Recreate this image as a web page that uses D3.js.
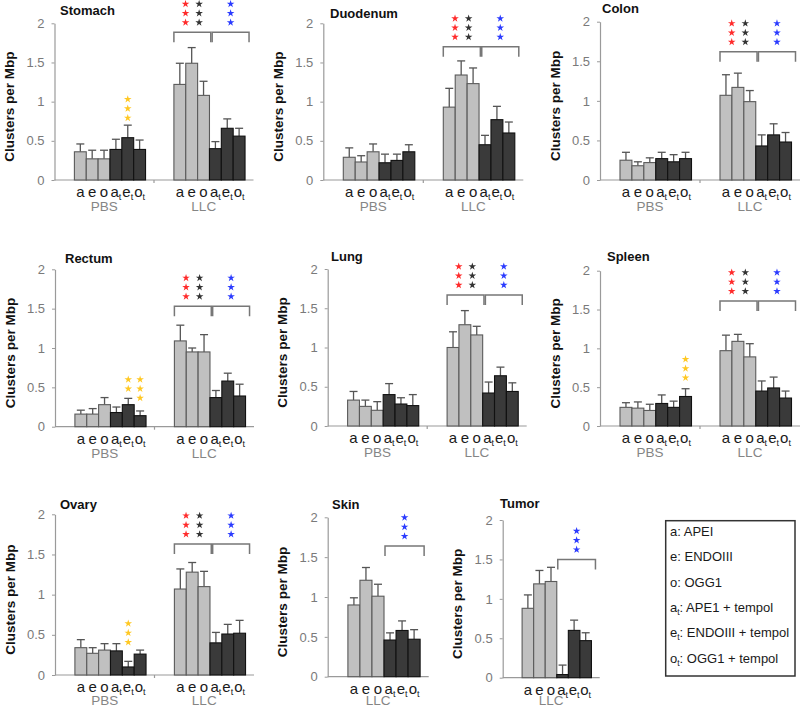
<!DOCTYPE html>
<html><head><meta charset="utf-8">
<script src="https://cdn.jsdelivr.net/npm/d3@7"></script>
<style>body{margin:0;background:#fff} svg{display:block;font-family:Arial,"Liberation Sans",sans-serif}</style>
</head><body><svg id="chart" width="800" height="709"></svg>
<script>
// ---------- data ----------
const tissues = ["Stomach","Duodenum","Colon","Rectum","Lung","Spleen","Ovary","Skin","Tumor"];
const enzymes = ["a","e","o","at","et","ot"];
const enzymeBase = ["a","e","o","a","e","o"];
const enzymeSub = ["","","","t","t","t"];
const yTicks = [0,0.5,1,1.5,2];
const yTickLabels = ["0","0.5","1","1.5","2"];
const yTitle = "Clusters per Mbp";

const stomachPBS = [0.36,0.27,0.27,0.39,0.54,0.39];
const stomachPBSErr = [0.10,0.11,0.11,0.13,0.16,0.12];
const stomachLLC = [1.22,1.49,1.08,0.40,0.66,0.56];
const stomachLLCErr = [0.27,0.20,0.18,0.09,0.12,0.10];

const duodenumPBS = [0.29,0.23,0.36,0.22,0.25,0.36];
const duodenumPBSErr = [0.12,0.08,0.10,0.11,0.08,0.09];
const duodenumLLC = [0.93,1.34,1.23,0.45,0.77,0.60];
const duodenumLLCErr = [0.24,0.18,0.20,0.12,0.17,0.14];

const colonPBS = [0.25,0.18,0.22,0.27,0.23,0.27];
const colonPBSErr = [0.10,0.05,0.06,0.08,0.09,0.08];
const colonLLC = [1.07,1.17,0.99,0.43,0.57,0.48];
const colonLLCErr = [0.26,0.18,0.14,0.14,0.14,0.12];

const rectumPBS = [0.16,0.16,0.28,0.18,0.28,0.14];
const rectumPBSErr = [0.05,0.07,0.09,0.07,0.08,0.06];
const rectumLLC = [1.09,0.95,0.95,0.37,0.58,0.39];
const rectumLLCErr = [0.20,0.05,0.22,0.09,0.10,0.15];

const lungPBS = [0.33,0.25,0.20,0.40,0.28,0.26];
const lungPBSErr = [0.11,0.08,0.11,0.14,0.08,0.14];
const lungLLC = [1.00,1.29,1.16,0.42,0.64,0.44];
const lungLLCErr = [0.20,0.18,0.11,0.14,0.11,0.11];

const spleenPBS = [0.24,0.23,0.20,0.29,0.24,0.38];
const spleenPBSErr = [0.06,0.08,0.08,0.11,0.08,0.10];
const spleenLLC = [0.97,1.09,0.89,0.45,0.49,0.36];
const spleenLLCErr = [0.20,0.09,0.17,0.13,0.14,0.09];

const ovaryPBS = [0.34,0.27,0.31,0.30,0.10,0.26];
const ovaryPBSErr = [0.10,0.07,0.08,0.09,0.07,0.05];
const ovaryLLC = [1.07,1.28,1.10,0.40,0.51,0.52];
const ovaryLLCErr = [0.25,0.12,0.19,0.13,0.12,0.16];

const skinLLC = [0.90,1.21,1.01,0.46,0.58,0.47];
const skinLLCErr = [0.09,0.16,0.15,0.09,0.12,0.12];

const tumorLLC = [0.88,1.19,1.22,0.04,0.60,0.47];
const tumorLLCErr = [0.17,0.17,0.18,0.12,0.13,0.10];

// significance annotations
const bracketLevel = [1.885,1.70,1.62,1.53,1.67,1.61,1.63,1.64,1.50];
const bracketLeft = [true,true,true,true,true,true,true,false,false];
const pbsStars = [
  {tissue:"Stomach", bar:4, n:3, top:1.03},
  {tissue:"Rectum", bar:4, n:2, top:0.60},
  {tissue:"Rectum", bar:5, n:3, top:0.60},
  {tissue:"Spleen", bar:5, n:3, top:0.86},
  {tissue:"Ovary", bar:4, n:3, top:0.64}
];

const legendKeys = ["a","e","o","a","e","o"];
const legendSubs = ["","","","t","t","t"];
const legendTexts = [": APEI",": ENDOIII",": OGG1",": APE1 + tempol",": ENDOIII + tempol",": OGG1 + tempol"];

// table built from arrays
const table = {
  Stomach: {PBS:[stomachPBS,stomachPBSErr], LLC:[stomachLLC,stomachLLCErr]},
  Duodenum:{PBS:[duodenumPBS,duodenumPBSErr], LLC:[duodenumLLC,duodenumLLCErr]},
  Colon:   {PBS:[colonPBS,colonPBSErr], LLC:[colonLLC,colonLLCErr]},
  Rectum:  {PBS:[rectumPBS,rectumPBSErr], LLC:[rectumLLC,rectumLLCErr]},
  Lung:    {PBS:[lungPBS,lungPBSErr], LLC:[lungLLC,lungLLCErr]},
  Spleen:  {PBS:[spleenPBS,spleenPBSErr], LLC:[spleenLLC,spleenLLCErr]},
  Ovary:   {PBS:[ovaryPBS,ovaryPBSErr], LLC:[ovaryLLC,ovaryLLCErr]},
  Skin:    {LLC:[skinLLC,skinLLCErr]},
  Tumor:   {LLC:[tumorLLC,tumorLLCErr]}
};

// ---------- layout ----------
const layout = [
 {ax:54.5, y2:23.3, y0:180, len:199, tx:60, ty:14.5},
 {ax:323.3, y2:23.3, y0:180, len:200, tx:330, ty:18},
 {ax:600, y2:21.7, y0:180, len:200, tx:602, ty:13},
 {ax:55, y2:269.3, y0:426.7, len:199, tx:65, ty:263},
 {ax:327.7, y2:269, y0:426, len:199, tx:331, ty:261},
 {ax:600, y2:270.7, y0:426, len:200, tx:607, ty:261},
 {ax:55, y2:514.3, y0:675, len:199, tx:60, ty:509},
 {ax:327.7, y2:517.3, y0:676.7, len:101, tx:332, ty:509},
 {ax:502.7, y2:520, y0:677.7, len:97, tx:500, ty:508}
];
const starColors = {red:"#ff2b2b", black:"#333333", blue:"#2b3bff", yellow:"#ffc823"};
const starSym = d3.symbol().type(d3.symbolStar).size(18);

const svg = d3.select("#chart");

tissues.forEach((t, i) => {
  const L = layout[i];
  const groups = Object.keys(table[t]);
  const g = svg.append("g");
  const y = d3.scaleLinear().domain([0,2]).range([L.y0, L.y2]);
  const xg = d3.scaleBand().domain(groups).range([L.ax, L.ax + L.len]);
  const gw = xg.bandwidth();

  // y axis
  const yAxis = g.append("g").attr("transform", `translate(${L.ax},0)`)
    .call(d3.axisLeft(y).tickValues(yTicks).tickFormat((d,k)=>yTickLabels[k]).tickSize(3).tickSizeOuter(0).tickPadding(7));
  yAxis.select(".domain").attr("stroke","#9a9a9a").attr("stroke-width",1.2);
  yAxis.selectAll(".tick line").attr("stroke","#9a9a9a");
  yAxis.selectAll(".tick text").attr("fill","#7a7a7a").style("font-size","13px").style("font-family","Arial,'Liberation Sans',sans-serif");

  // x axis line
  g.append("line").attr("x1", L.ax).attr("x2", L.ax + L.len).attr("y1", L.y0).attr("y2", L.y0)
    .attr("stroke","#9a9a9a").attr("stroke-width",1.2);
  groups.forEach((gr, k) => {
    if (k > 0) g.append("line").attr("x1", xg(gr)).attr("x2", xg(gr)).attr("y1", L.y0).attr("y2", L.y0 + 3)
      .attr("stroke","#9a9a9a").attr("stroke-width",1.2);
  });

  // y title
  g.append("text").attr("transform", `translate(${L.ax - 44},${(L.y0 + L.y2)/2 + 5}) rotate(-90)`)
    .attr("text-anchor","middle").attr("dominant-baseline","middle")
    .style("font-size","13.5px").style("font-weight","bold").attr("fill","#111").text(yTitle);

  // panel title
  g.append("text").attr("x", L.tx).attr("y", L.ty).style("font-size","13px").style("font-weight","bold")
    .attr("fill","#111").text(t);

  groups.forEach(gr => {
    const [vals, errs] = table[t][gr];
    const x0 = xg(gr) + 0.2 * gw;
    const xb = d3.scaleBand().domain(enzymes).range([x0, x0 + 0.715 * gw]);
    const bw = xb.bandwidth();
    const data = enzymes.map((e, k) => ({e, k, v: vals[k], s: errs[k]}));

    // error bars
    g.selectAll(null).data(data).enter().append("line")
      .attr("x1", d => xb(d.e) + bw/2).attr("x2", d => xb(d.e) + bw/2)
      .attr("y1", d => y(d.v)).attr("y2", d => y(d.v + d.s))
      .attr("stroke", "#555").attr("stroke-width", 1.3);
    g.selectAll(null).data(data).enter().append("line")
      .attr("x1", d => xb(d.e) + bw/2 - 4).attr("x2", d => xb(d.e) + bw/2 + 4)
      .attr("y1", d => y(d.v + d.s)).attr("y2", d => y(d.v + d.s))
      .attr("stroke", "#555").attr("stroke-width", 1.3);

    // bars
    g.selectAll(null).data(data).enter().append("rect")
      .attr("x", d => xb(d.e)).attr("width", bw)
      .attr("y", d => y(d.v)).attr("height", d => y(0) - y(d.v))
      .attr("fill", d => d.k < 3 ? "#c0c0c0" : "#3a3a3a")
      .attr("stroke", d => d.k < 3 ? "#5a5a5a" : "#111").attr("stroke-width", 1.1);

    // enzyme labels
    const lab = g.selectAll(null).data(data).enter().append("text")
      .attr("x", d => xb(d.e) + bw/2).attr("y", L.y0 + 17)
      .attr("text-anchor","middle").attr("fill","#1a1a1a").style("font-size","15px");
    lab.append("tspan").text(d => enzymeBase[d.k]);
    lab.filter(d => enzymeSub[d.k]).append("tspan").attr("dy", 3).style("font-size","9px").text(d => enzymeSub[d.k]);

    // group label
    g.append("text").attr("x", xg(gr) + gw/2).attr("y", Math.min(L.y0 + 31, 704.5)).attr("text-anchor","middle")
      .attr("fill","#858585").style("font-size","13.5px").text(gr);

    // brackets for LLC
    if (gr === "LLC") {
      const by = y(bracketLevel[i]);
      const start = xb("a");
      const end = xb("ot") + bw + 4;
      const mid = (start + end) / 2;
      const brk = [];
      if (bracketLeft[i]) brk.push([start, mid - 0.7, ["red","black"]]);
      brk.push([bracketLeft[i] ? mid + 0.7 : xb("at") + 1, end, ["blue"]]);
      brk.forEach(([a, b, cols]) => {
        g.append("path").attr("d", `M${a},${by + 10}V${by}H${b}V${by + 10}`)
          .attr("fill","none").attr("stroke","#777").attr("stroke-width",1.5);
        const c = (a + b) / 2;
        cols.forEach((col, ci) => {
          const cx = cols.length === 1 ? c : c + (ci === 0 ? -6.8 : 6.8);
          for (let s = 0; s < 3; s++) {
            g.append("path").attr("d", starSym)
              .attr("transform", `translate(${cx},${by - 9.8 - s * 9.3})`)
              .attr("fill", starColors[col]);
          }
        });
      });
    }
    if (gr === "PBS") {
      pbsStars.filter(p => p.tissue === t).forEach(p => {
        const cx = xb(enzymes[p.bar]) + bw/2;
        for (let s = 0; s < p.n; s++) {
          g.append("path").attr("d", starSym)
            .attr("transform", `translate(${cx},${y(p.top) + s * 9.3})`)
            .attr("fill", starColors.yellow);
        }
      });
    }
  });
});

// legend
const lg = svg.append("g");
lg.append("rect").attr("x",665.7).attr("y",520.7).attr("width",129.3).attr("height",155.3)
  .attr("fill","none").attr("stroke","#333").attr("stroke-width",1.5);
legendKeys.forEach((k, i) => {
  const tx = lg.append("text").attr("x", 670).attr("y", 536 + i * 25.3).attr("fill","#1a1a1a").style("font-size","13px");
  tx.append("tspan").text(k);
  if (legendSubs[i]) {
    tx.append("tspan").attr("dy", 3).style("font-size","8.5px").text(legendSubs[i]);
    tx.append("tspan").attr("dy", -3).text(legendTexts[i]);
  } else {
    tx.append("tspan").text(legendTexts[i]);
  }
});
</script></body></html>
